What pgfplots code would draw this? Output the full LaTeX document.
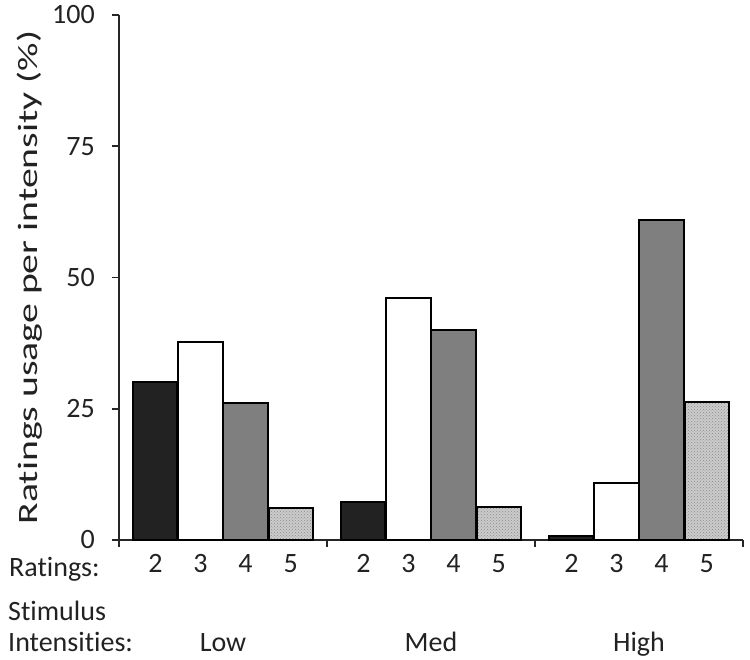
\documentclass[border=0pt]{standalone}
\usepackage{pgfplots}
\pgfplotsset{compat=1.18}
\usepackage{fontspec}
\setmainfont{Carlito}[Ligatures=NoCommon]
\usetikzlibrary{patterns}
\definecolor{barblack}{HTML}{222222}
\definecolor{bargray}{HTML}{7F7F7F}
\definecolor{bardot}{HTML}{CBCBCB}
\definecolor{txt}{HTML}{222222}
\begin{document}
\begin{tikzpicture}[font=\fontsize{28}{30}\selectfont]
\begin{axis}[
  name=ax,
  scale only axis,
  width=624pt, height=525pt,
  xmin=0, xmax=3, ymin=0, ymax=100,
  axis x line*=bottom, axis y line*=left,
  axis line style={line width=1.6pt, black!85},
  every tick/.style={line width=1.6pt, black!85},
  tick align=outside,
  major tick length=7pt,
  ytick={0,25,50,75,100},
  yticklabel style={inner sep=2pt, xshift=-15pt, text=txt, font=\fontsize{28}{30}\selectfont},
  xtick={0,1,2,3},
  xticklabels={},
  extra x ticks={0.175,0.392,0.608,0.825,1.175,1.392,1.608,1.825,2.175,2.392,2.608,2.825},
  extra x tick labels={2,3,4,5,2,3,4,5,2,3,4,5},
  extra x tick style={major tick length=0pt, xticklabel style={anchor=base, yshift=-33pt, text=txt, font=\fontsize{28}{30}\selectfont}},
  /pgf/number format/assume math mode=true,
  ylabel={\scalebox{1.42}[1]{Ratings usage per intensity (\%)}},
  ylabel style={at={(axis description cs:-0.1426,0.5)}, anchor=center, text=txt, font=\fontsize{28}{30}\selectfont},
  clip=false,
]
% Rating 2 (black)
\addplot[ybar, bar width=0.212, bar shift=0pt, fill=barblack, draw=black, line width=2pt]
  coordinates {(0.175,30.0) (1.175,7.2) (2.175,0.7)};
% Rating 3 (white)
\addplot[ybar, bar width=0.212, bar shift=0pt, fill=white, draw=black, line width=2pt]
  coordinates {(0.392,37.8) (1.392,46.0) (2.392,10.9)};
% Rating 4 (gray)
\addplot[ybar, bar width=0.212, bar shift=0pt, fill=bargray, draw=black, line width=2pt]
  coordinates {(0.608,26.0) (1.608,40.0) (2.608,61.0)};
% Rating 5 (dotted)
\addplot[ybar, bar width=0.212, bar shift=0pt, fill=bardot, draw=black, line width=2pt,
  postaction={pattern=crosshatch dots, pattern color=black!45}]
  coordinates {(0.825,6.0) (1.825,6.2) (2.825,26.3)};
\end{axis}
\node[anchor=base west, text=txt, inner sep=0pt] at (-110pt,-37pt) {Ratings:};
\node[anchor=base west, text=txt, inner sep=0pt] at (-111pt,-81pt) {Stimulus};
\node[anchor=base west, text=txt, inner sep=0pt] at (-111pt,-112pt) {Intensities:};
\node[anchor=base, text=txt, inner sep=0pt] at (104pt,-112pt) {Low};
\node[anchor=base, text=txt, inner sep=0pt] at (312pt,-112pt) {Med};
\node[anchor=base, text=txt, inner sep=0pt] at (520pt,-112pt) {High};
\path[use as bounding box] (-119pt,-120pt) rectangle (631pt,540pt);
\end{tikzpicture}
\end{document}
